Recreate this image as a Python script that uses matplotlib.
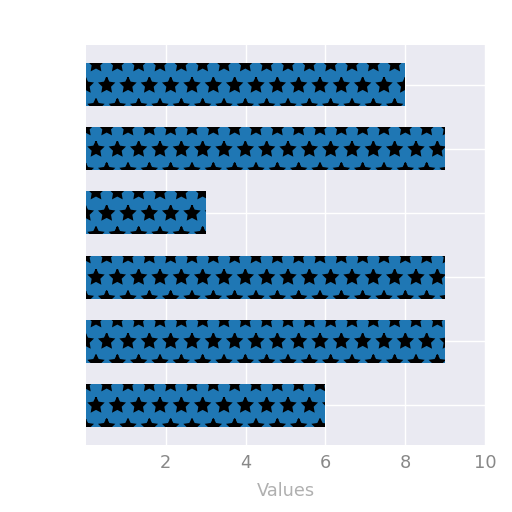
import matplotlib
matplotlib.use('Agg')
import matplotlib.pyplot as plt
import numpy as np

# bar values, top to bottom
values = [8, 9, 3, 9, 9, 6]
x_ticks = [2, 4, 6, 8, 10]
x_label = 'Values'

plt.rcParams['hatch.color'] = 'black'
plt.rcParams['hatch.linewidth'] = 1.0

fig = plt.figure(figsize=(4, 4), dpi=128)
ax = fig.add_axes([0.168, 0.131, 0.779, 0.781])
ax.set_facecolor('#EAEAF2')
ax.set_axisbelow(True)

pos = np.arange(len(values))
ax.barh(pos, values, height=0.67, color='#1f77b4', hatch='*',
        edgecolor='black', linewidth=0)
ax.invert_yaxis()

ax.set_xlim(0, 10)
ax.set_xticks(x_ticks)
ax.set_yticks(pos)
ax.set_yticklabels([])
ax.grid(True, color='white', linewidth=0.8)
for s in ax.spines.values():
    s.set_visible(False)
ax.tick_params(length=0, labelsize=10, labelcolor='#888888', pad=5)
ax.set_xlabel(x_label, color='#b0b0b0', fontsize=10, labelpad=6)

fig.savefig('out.png', dpi=128)
